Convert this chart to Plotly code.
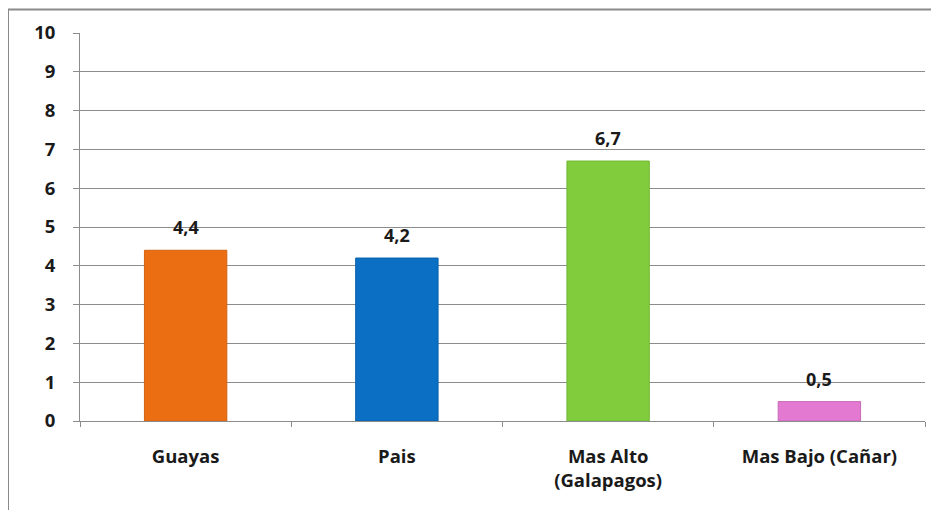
import plotly.graph_objects as go

categories = ["Guayas", "Pais", "Mas Alto<br>(Galapagos)", "Mas Bajo (Cañar)"]
values = [4.4, 4.2, 6.7, 0.5]
value_labels = ["4,4", "4,2", "6,7", "0,5"]
colors = ["#EC6E12", "#0B6FC4", "#80CC3C", "#E479D2"]
line_colors = ["#D2620F", "#0A60AA", "#72B836", "#C96AB8"]
y_ticks = [0, 1, 2, 3, 4, 5, 6, 7, 8, 9, 10]

FONT = "'Open Sans', sans-serif"

fig = go.Figure()
fig.add_trace(go.Bar(
    x=categories, y=values,
    marker=dict(color=colors, line=dict(color=line_colors, width=1)),
    width=0.39,
    hoverinfo="skip",
))

for c, v, t in zip(categories, values, value_labels):
    fig.add_annotation(x=c, y=v, text="<b>%s</b>" % t, showarrow=False,
                       yanchor="bottom", yshift=9,
                       font=dict(family=FONT, size=18, color="#1a1a1a"))

# page offset of the figure (body margin)
OFF = 8
W, H = 939, 510
PL, PR, PT, PB = 80, 925, 33, 421  # plot area in page pixels
L = PL - OFF
T = PT - OFF
R = W - (PR - OFF)
B = H - (PB - OFF)
pw = PR - PL
ph = PB - PT
def px(x):
    return (x - PL) / pw
def py(y):
    return (PB - y) / ph

fig.add_shape(type="rect", xref="paper", yref="paper",
              x0=px(8), x1=px(980), y0=py(9.5), y1=py(560),
              line=dict(color="#8a8a8a", width=2), fillcolor="rgba(0,0,0,0)", layer="below")

fig.update_layout(
    width=W, height=H,
    margin=dict(l=L, r=R, t=T, b=B),
    paper_bgcolor="white", plot_bgcolor="white",
    showlegend=False,
    font=dict(family=FONT, size=18, color="#1a1a1a"),
    xaxis=dict(
        showline=True, linecolor="#8c8c8c", linewidth=1,
        ticks="outside", tickson="boundaries", ticklen=5, tickcolor="#8c8c8c",
        tickfont=dict(family=FONT, size=18.5, color="#1a1a1a", weight="bold"),
        ticklabelstandoff=19,
        showgrid=False,
    ),
    yaxis=dict(
        range=[0, 10], tickvals=y_ticks, ticktext=[str(v) for v in y_ticks],
        showline=True, linecolor="#8c8c8c", linewidth=1,
        ticks="outside", ticklen=6, tickcolor="#8c8c8c",
        showgrid=True, gridcolor="#8c8c8c", gridwidth=1,
        zeroline=False,
        tickfont=dict(family=FONT, size=18.5, color="#1a1a1a", weight="bold"),
        ticklabelstandoff=14,
    ),
)

fig.write_html("out.html")
